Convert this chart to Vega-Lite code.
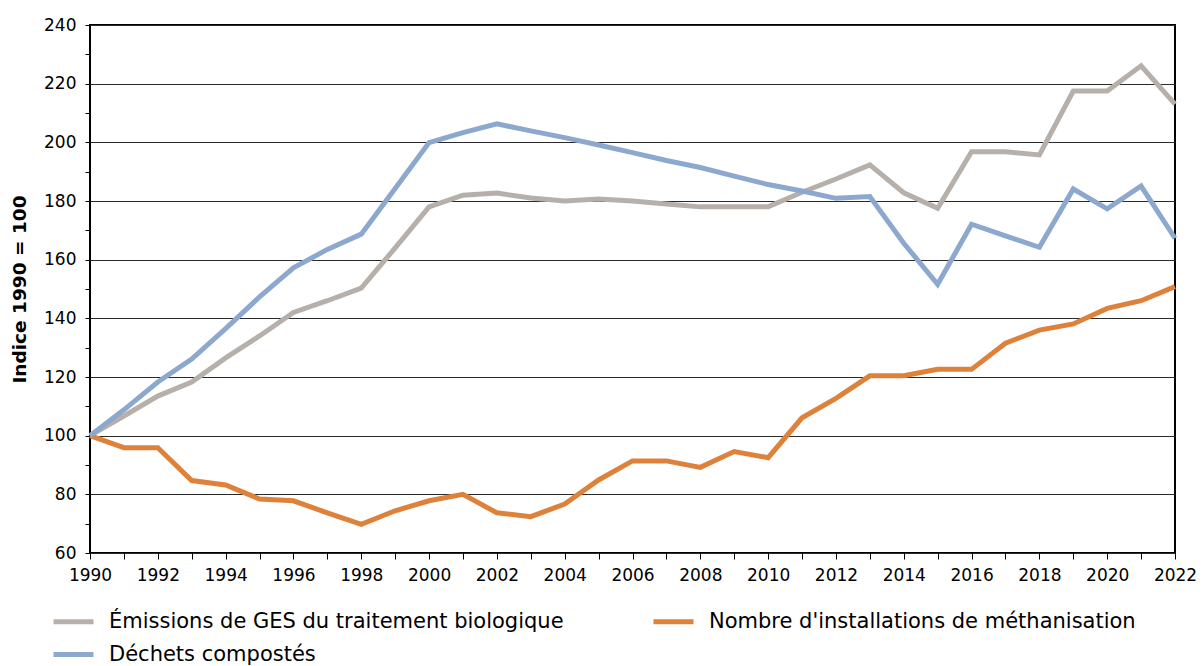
{
  "$schema": "https://vega.github.io/schema/vega-lite/v6.json",
  "width": 1085,
  "height": 528,
  "autosize": {"type": "none"},
  "padding": {"left": 90, "top": 25, "right": 28, "bottom": 113},
  "background": "white",
  "config": {
    "font": "DejaVu Sans",
    "view": {"stroke": "black", "strokeWidth": 2},
    "axis": {"labelFont": "DejaVu Sans", "titleFont": "DejaVu Sans", "labelColor": "black", "titleColor": "black", "tickColor": "black", "domain": false},
    "legend": {"labelFont": "DejaVu Sans"}
  },
  "data": {"values": [
    {"year":1990,"s":"Émissions de GES du traitement biologique","v":100},
    {"year":1991,"s":"Émissions de GES du traitement biologique","v":106.7},
    {"year":1992,"s":"Émissions de GES du traitement biologique","v":113.5},
    {"year":1993,"s":"Émissions de GES du traitement biologique","v":118.3},
    {"year":1994,"s":"Émissions de GES du traitement biologique","v":126.5},
    {"year":1995,"s":"Émissions de GES du traitement biologique","v":134},
    {"year":1996,"s":"Émissions de GES du traitement biologique","v":142},
    {"year":1997,"s":"Émissions de GES du traitement biologique","v":146},
    {"year":1998,"s":"Émissions de GES du traitement biologique","v":150.3},
    {"year":1999,"s":"Émissions de GES du traitement biologique","v":164},
    {"year":2000,"s":"Émissions de GES du traitement biologique","v":178},
    {"year":2001,"s":"Émissions de GES du traitement biologique","v":182},
    {"year":2002,"s":"Émissions de GES du traitement biologique","v":182.7},
    {"year":2003,"s":"Émissions de GES du traitement biologique","v":181},
    {"year":2004,"s":"Émissions de GES du traitement biologique","v":180},
    {"year":2005,"s":"Émissions de GES du traitement biologique","v":180.7},
    {"year":2006,"s":"Émissions de GES du traitement biologique","v":180},
    {"year":2007,"s":"Émissions de GES du traitement biologique","v":179},
    {"year":2008,"s":"Émissions de GES du traitement biologique","v":178},
    {"year":2009,"s":"Émissions de GES du traitement biologique","v":178},
    {"year":2010,"s":"Émissions de GES du traitement biologique","v":178},
    {"year":2011,"s":"Émissions de GES du traitement biologique","v":183},
    {"year":2012,"s":"Émissions de GES du traitement biologique","v":187.5},
    {"year":2013,"s":"Émissions de GES du traitement biologique","v":192.3},
    {"year":2014,"s":"Émissions de GES du traitement biologique","v":182.8},
    {"year":2015,"s":"Émissions de GES du traitement biologique","v":177.5},
    {"year":2016,"s":"Émissions de GES du traitement biologique","v":196.8},
    {"year":2017,"s":"Émissions de GES du traitement biologique","v":196.8},
    {"year":2018,"s":"Émissions de GES du traitement biologique","v":195.7},
    {"year":2019,"s":"Émissions de GES du traitement biologique","v":217.5},
    {"year":2020,"s":"Émissions de GES du traitement biologique","v":217.5},
    {"year":2021,"s":"Émissions de GES du traitement biologique","v":226.1},
    {"year":2022,"s":"Émissions de GES du traitement biologique","v":213},
    {"year":1990,"s":"Nombre d'installations de méthanisation","v":100},
    {"year":1991,"s":"Nombre d'installations de méthanisation","v":95.9},
    {"year":1992,"s":"Nombre d'installations de méthanisation","v":95.9},
    {"year":1993,"s":"Nombre d'installations de méthanisation","v":84.7},
    {"year":1994,"s":"Nombre d'installations de méthanisation","v":83.2},
    {"year":1995,"s":"Nombre d'installations de méthanisation","v":78.4},
    {"year":1996,"s":"Nombre d'installations de méthanisation","v":77.8},
    {"year":1997,"s":"Nombre d'installations de méthanisation","v":73.7},
    {"year":1998,"s":"Nombre d'installations de méthanisation","v":69.8},
    {"year":1999,"s":"Nombre d'installations de méthanisation","v":74.4},
    {"year":2000,"s":"Nombre d'installations de méthanisation","v":77.8},
    {"year":2001,"s":"Nombre d'installations de méthanisation","v":80},
    {"year":2002,"s":"Nombre d'installations de méthanisation","v":73.7},
    {"year":2003,"s":"Nombre d'installations de méthanisation","v":72.4},
    {"year":2004,"s":"Nombre d'installations de méthanisation","v":76.7},
    {"year":2005,"s":"Nombre d'installations de méthanisation","v":84.9},
    {"year":2006,"s":"Nombre d'installations de méthanisation","v":91.4},
    {"year":2007,"s":"Nombre d'installations de méthanisation","v":91.4},
    {"year":2008,"s":"Nombre d'installations de méthanisation","v":89.2},
    {"year":2009,"s":"Nombre d'installations de méthanisation","v":94.6},
    {"year":2010,"s":"Nombre d'installations de méthanisation","v":92.5},
    {"year":2011,"s":"Nombre d'installations de méthanisation","v":106.1},
    {"year":2012,"s":"Nombre d'installations de méthanisation","v":112.7},
    {"year":2013,"s":"Nombre d'installations de méthanisation","v":120.4},
    {"year":2014,"s":"Nombre d'installations de méthanisation","v":120.4},
    {"year":2015,"s":"Nombre d'installations de méthanisation","v":122.6},
    {"year":2016,"s":"Nombre d'installations de méthanisation","v":122.6},
    {"year":2017,"s":"Nombre d'installations de méthanisation","v":131.5},
    {"year":2018,"s":"Nombre d'installations de méthanisation","v":136},
    {"year":2019,"s":"Nombre d'installations de méthanisation","v":138.1},
    {"year":2020,"s":"Nombre d'installations de méthanisation","v":143.4},
    {"year":2021,"s":"Nombre d'installations de méthanisation","v":146},
    {"year":2022,"s":"Nombre d'installations de méthanisation","v":150.8},
    {"year":1990,"s":"Déchets compostés","v":100},
    {"year":1991,"s":"Déchets compostés","v":108.8},
    {"year":1992,"s":"Déchets compostés","v":118.3},
    {"year":1993,"s":"Déchets compostés","v":126.1},
    {"year":1994,"s":"Déchets compostés","v":136.5},
    {"year":1995,"s":"Déchets compostés","v":147.3},
    {"year":1996,"s":"Déchets compostés","v":157.2},
    {"year":1997,"s":"Déchets compostés","v":163.5},
    {"year":1998,"s":"Déchets compostés","v":168.7},
    {"year":1999,"s":"Déchets compostés","v":184.3},
    {"year":2000,"s":"Déchets compostés","v":199.9},
    {"year":2001,"s":"Déchets compostés","v":203.3},
    {"year":2002,"s":"Déchets compostés","v":206.3},
    {"year":2003,"s":"Déchets compostés","v":203.9},
    {"year":2004,"s":"Déchets compostés","v":201.6},
    {"year":2005,"s":"Déchets compostés","v":199.1},
    {"year":2006,"s":"Déchets compostés","v":196.5},
    {"year":2007,"s":"Déchets compostés","v":193.8},
    {"year":2008,"s":"Déchets compostés","v":191.4},
    {"year":2009,"s":"Déchets compostés","v":188.5},
    {"year":2010,"s":"Déchets compostés","v":185.6},
    {"year":2011,"s":"Déchets compostés","v":183.4},
    {"year":2012,"s":"Déchets compostés","v":180.9},
    {"year":2013,"s":"Déchets compostés","v":181.5},
    {"year":2014,"s":"Déchets compostés","v":165.6},
    {"year":2015,"s":"Déchets compostés","v":151.6},
    {"year":2016,"s":"Déchets compostés","v":172.1},
    {"year":2017,"s":"Déchets compostés","v":168.1},
    {"year":2018,"s":"Déchets compostés","v":164.2},
    {"year":2019,"s":"Déchets compostés","v":184.1},
    {"year":2020,"s":"Déchets compostés","v":177.3},
    {"year":2021,"s":"Déchets compostés","v":185.1},
    {"year":2022,"s":"Déchets compostés","v":167.3}
  ]},
  "mark": {"type": "line", "strokeWidth": 5, "strokeJoin": "miter", "strokeCap": "butt"},
  "encoding": {
    "x": {
      "field": "year", "type": "quantitative",
      "scale": {"domain": [1990, 2022], "nice": false, "zero": false},
      "axis": {
        "title": null,
        "values": [1990,1991,1992,1993,1994,1995,1996,1997,1998,1999,2000,2001,2002,2003,2004,2005,2006,2007,2008,2009,2010,2011,2012,2013,2014,2015,2016,2017,2018,2019,2020,2021,2022],
        "labelExpr": "datum.value % 2 === 0 ? datum.value + '' : ''",
        "grid": false,
        "tickSize": 6,
        "tickWidth": 1,
        "labelFontSize": 17,
        "labelPadding": 8,
        "labelFlush": false,
        "labelOverlap": false,
        "labelBound": false
      }
    },
    "y": {
      "field": "v", "type": "quantitative",
      "scale": {"domain": [60, 240], "nice": false, "zero": false},
      "axis": {
        "title": "Indice 1990 = 100",
        "titleFontSize": 18.5,
        "titleFontWeight": "bold",
        "titlePadding": 14,
        "values": [60,70,80,90,100,110,120,130,140,150,160,170,180,190,200,210,220,230,240],
        "labelExpr": "datum.value % 20 === 0 ? datum.value + '' : ''",
        "grid": true,
        "gridColor": "#2a2a2a",
        "gridWidth": 1,
        "gridOpacity": {"condition": {"test": "datum.value % 20 !== 0", "value": 0}, "value": 1},
        "tickSize": 5,
        "tickWidth": 1,
        "labelFontSize": 17,
        "labelPadding": 9,
        "labelOverlap": false,
        "labelFlush": false,
        "labelBound": false
      }
    },
    "color": {
      "field": "s", "type": "nominal",
      "scale": {
        "domain": ["Émissions de GES du traitement biologique", "Nombre d'installations de méthanisation", "Déchets compostés"],
        "range": ["#B7B0AA", "#DE823B", "#8DA8CF"]
      },
      "legend": {
        "title": null,
        "orient": "none",
        "legendX": -39,
        "legendY": 574,
        "direction": "horizontal",
        "columns": 2,
        "columnPadding": 79,
        "rowPadding": -8,
        "padding": 0,
        "symbolType": "stroke",
        "symbolSize": 1600,
        "symbolStrokeWidth": 5,
        "symbolOffset": 0,
        "labelFontSize": 21,
        "labelColor": "black",
        "labelOffset": 13,
        "labelLimit": 1000
      }
    }
  }
}
